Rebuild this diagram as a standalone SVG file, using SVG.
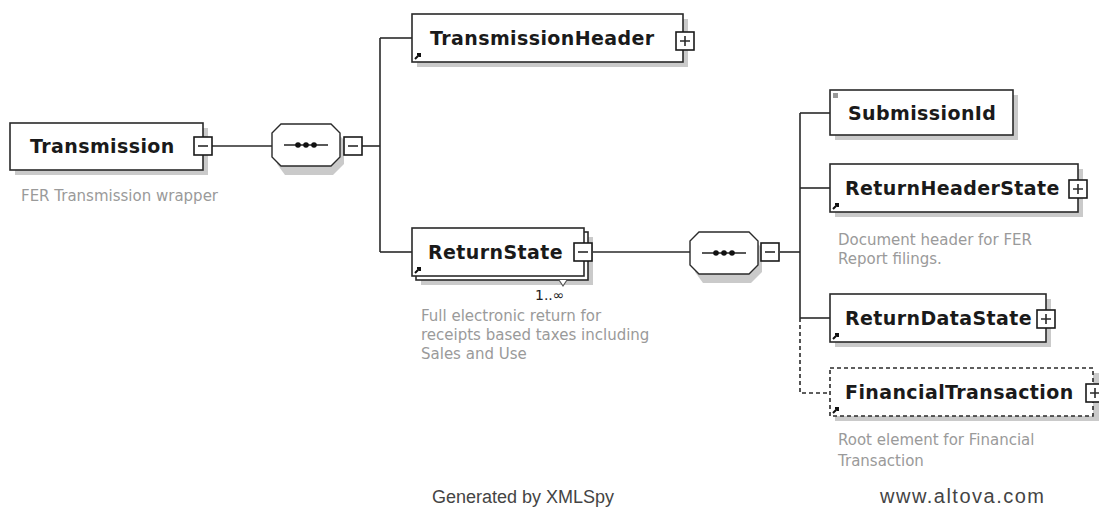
<svg xmlns="http://www.w3.org/2000/svg" width="1099" height="532" viewBox="0 0 1099 532">
<style>
.bx{fill:#fff;stroke:#2a2a2a;stroke-width:1.6}
.bxd{fill:#fff;stroke:#2a2a2a;stroke-width:1.6;stroke-dasharray:4 3}
.sh{fill:#cacaca}
.lbl{font-family:"DejaVu Sans",Verdana,sans-serif;font-weight:bold;font-size:19px;letter-spacing:0.4px;fill:#1a1a1a}
.desc{font-family:"DejaVu Sans",Verdana,sans-serif;font-size:15px;fill:#9a9a9a}
.card{font-family:"DejaVu Sans",Verdana,sans-serif;font-size:14px;fill:#222}
.ln{stroke:#2a2a2a;stroke-width:1.6;fill:none}
.lnd{stroke:#2a2a2a;stroke-width:1.6;fill:none;stroke-dasharray:4 3}
.pm{fill:#fff;stroke:#1a1a1a;stroke-width:1.6}
.foot{font-family:"Liberation Sans",Arial,sans-serif;font-size:18px;fill:#444}
</style>
<defs>
<g id="minus"><rect class="pm" x="0" y="0" width="18" height="18"/><path class="ln" d="M4 9H14"/></g>
<g id="plus"><rect class="pm" x="0" y="0" width="18" height="18"/><path class="ln" d="M4 9H14M9 4V14"/></g>
<path id="ref" d="M0 6L5 1M2 1H5V4" stroke="#111" stroke-width="2" fill="none"/>
<g id="seq">
<path class="sh" d="M13 5H61L72 16V40L61 51H13L5 40V16Z"/>
<path d="M9 0H59L68 9V33L59 42H9L0 33V9Z" fill="#fff" stroke="#2a2a2a" stroke-width="1.4"/>
<path d="M12 21H56" stroke="#222" stroke-width="1.5"/>
<circle cx="26" cy="21" r="2.8" fill="#111"/><circle cx="34" cy="21" r="2.8" fill="#111"/><circle cx="42" cy="21" r="2.8" fill="#111"/>
</g>
</defs>

<g id="connectors">
<path class="ln" d="M212 146H272"/>
<path class="ln" d="M362 146H380"/>
<path class="ln" d="M380 38V252"/>
<path class="ln" d="M380 38H412"/>
<path class="ln" d="M380 252H412"/>
<path class="ln" d="M592 252H690"/>
<path class="ln" d="M780 252H800"/>
<path class="ln" d="M800 113V318"/>
<path class="ln" d="M800 113H830"/>
<path class="ln" d="M800 188H830"/>
<path class="ln" d="M800 318H830"/>
<path class="lnd" d="M800 318V393H830"/>
</g>

<g id="Transmission">
<rect class="sh" x="15" y="128" width="193" height="47"/>
<rect class="bx" x="10" y="123" width="193" height="47"/>
<text class="lbl" x="30" y="153">Transmission</text>
<use href="#minus" x="194" y="137"/>
<text class="desc" x="21" y="201">FER Transmission wrapper</text>
</g>

<g id="sequence1">
<use href="#seq" x="272" y="124"/>
<use href="#minus" x="344" y="137"/>
</g>

<g id="TransmissionHeader">
<rect class="sh" x="417" y="19" width="271" height="48"/>
<rect class="bx" x="412" y="14" width="271" height="48"/>
<text class="lbl" x="430" y="45">TransmissionHeader</text>
<use href="#ref" x="415" y="53"/>
<use href="#plus" x="676" y="32"/>
</g>

<g id="ReturnState">
<rect class="sh" x="421" y="237" width="172" height="48"/>
<rect class="bx" x="416" y="232" width="172" height="48"/>
<rect class="bx" x="412" y="228" width="172" height="48"/>
<text class="lbl" x="428" y="259">ReturnState</text>
<use href="#ref" x="415" y="267"/>
<use href="#minus" x="574" y="243"/>
<path d="M559 280L563 286L567 280" fill="#fff" stroke="#555" stroke-width="1.2"/>
<text class="card" x="535" y="300">1..∞</text>
<text class="desc" x="421" y="321">Full electronic return for</text>
<text class="desc" x="421" y="340">receipts based taxes including</text>
<text class="desc" x="421" y="359">Sales and Use</text>
</g>

<g id="sequence2">
<use href="#seq" x="690" y="232"/>
<use href="#minus" x="761" y="243"/>
</g>

<g id="SubmissionId">
<rect class="sh" x="835" y="95" width="183" height="45"/>
<rect class="bx" x="830" y="90" width="183" height="45"/>
<rect x="833" y="93" width="5" height="5" fill="#999"/>
<text class="lbl" x="848" y="120">SubmissionId</text>
</g>

<g id="ReturnHeaderState">
<rect class="sh" x="835" y="169" width="248" height="48"/>
<rect class="bx" x="830" y="164" width="248" height="48"/>
<text class="lbl" x="845" y="195">ReturnHeaderState</text>
<use href="#ref" x="833" y="203"/>
<use href="#plus" x="1069" y="180"/>
<text class="desc" x="838" y="245">Document header for FER</text>
<text class="desc" x="838" y="264">Report filings.</text>
</g>

<g id="ReturnDataState">
<rect class="sh" x="835" y="299" width="216" height="48"/>
<rect class="bx" x="830" y="294" width="216" height="48"/>
<text class="lbl" x="845" y="325">ReturnDataState</text>
<use href="#ref" x="833" y="333"/>
<use href="#plus" x="1037" y="310"/>
</g>

<g id="FinancialTransaction">
<rect class="sh" x="835" y="373" width="264" height="48"/>
<rect class="bxd" x="830" y="368" width="263" height="48"/>
<text class="lbl" x="845" y="399">FinancialTransaction</text>
<use href="#ref" x="833" y="407"/>
<use href="#plus" x="1086" y="384"/>
<text class="desc" x="838" y="445">Root element for Financial</text>
<text class="desc" x="838" y="466">Transaction</text>
</g>

<g id="footer">
<text class="foot" x="432" y="503">Generated by XMLSpy</text>
<text class="foot" x="880" y="503" style="font-size:20px;letter-spacing:1.5px">www.altova.com</text>
</g>
</svg>
